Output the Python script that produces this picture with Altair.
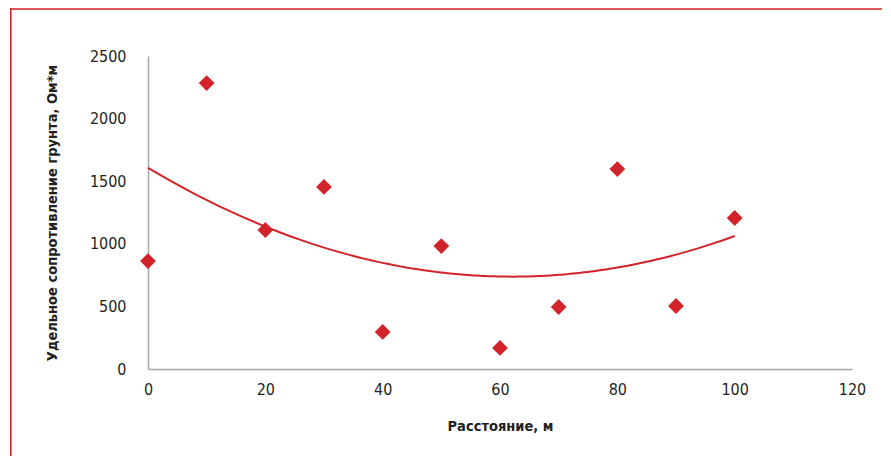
import altair as alt
import pandas as pd

# Data
distance = [0, 10, 20, 30, 40, 50, 60, 70, 80, 90, 100]
resistivity = [862, 2284, 1110, 1454, 296, 982, 168, 495, 1597, 503, 1206]

x_ticks = [0, 20, 40, 60, 80, 100, 120]
y_ticks = [0, 500, 1000, 1500, 2000, 2500]

RED = "#d2232a"
FONT = ("'Noto Sans ExtraCondensed', 'Noto Sans Condensed', 'DejaVu Sans Condensed', "
        "'Liberation Sans Narrow', 'Roboto Condensed', Roboto, sans-serif")

df = pd.DataFrame({"x": distance, "y": resistivity})

x_enc = alt.X(
    "x:Q",
    scale=alt.Scale(domain=[0, 120], nice=False, zero=True),
    axis=alt.Axis(
        values=x_ticks,
        format="d",
        title="Расстояние, м",
        grid=False,
        ticks=False,
        labelFlush=False,
        labelPadding=12,
        titleY=57,
        titleBaseline="middle",
    ),
)
y_enc = alt.Y(
    "y:Q",
    scale=alt.Scale(domain=[0, 2500], nice=False),
    axis=alt.Axis(
        values=y_ticks,
        format="d",
        title="Удельное сопротивление грунта, Ом*м",
        grid=False,
        ticks=False,
        labelFlush=False,
        labelPadding=22,
        titleX=-96,
        titleBaseline="middle",
    ),
)

base = alt.Chart(df)

points = base.mark_point(
    shape="diamond", filled=True, size=250, color=RED, opacity=1
).encode(x=x_enc, y=y_enc)

trend = (
    base.transform_regression("x", "y", method="poly", order=2)
    .mark_line(color=RED, strokeWidth=2, clip=False)
    .encode(x=x_enc, y=y_enc)
)

# decorative frame (top and left edges of the figure border)
one = pd.DataFrame({"a": [0]})
frame_top = alt.Chart(one).mark_rect(
    color=RED, opacity=1, clip=False
).encode(
    x=alt.value(-138), x2=alt.value(760),
    y=alt.value(-47.8), y2=alt.value(-46.2),
)
frame_left = alt.Chart(one).mark_rect(
    color=RED, opacity=1, clip=False
).encode(
    x=alt.value(-138), x2=alt.value(-136.4),
    y=alt.value(-47.8), y2=alt.value(400),
)

chart = (
    alt.layer(frame_top, frame_left, trend, points)
    .properties(
        width=704,
        height=313,
        autosize=alt.AutoSizeParams(type="none"),
        padding={"left": 140, "top": 48, "right": 30, "bottom": 90},
    )
    .configure_view(stroke=None)
    .configure_axis(
        domainColor="#a6a6a6",
        domainWidth=1.5,
        labelFont=FONT,
        labelFontSize=16,
        labelColor="#231f20",
        titleFont=FONT,
        titleFontSize=14.5,
        titleFontWeight="bold",
        titleColor="#231f20",
    )
)

chart.save("out.html", embed_options={"renderer": "svg", "actions": False})
